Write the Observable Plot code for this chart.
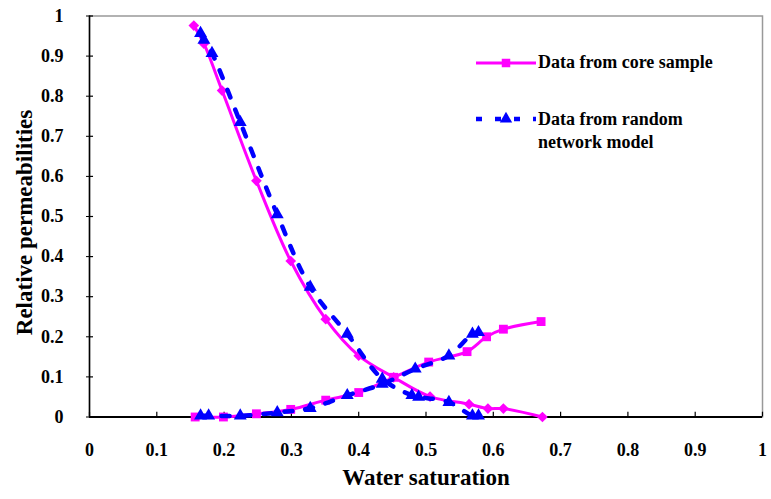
<!DOCTYPE html>
<html><head><meta charset="utf-8">
<script src="https://cdn.jsdelivr.net/npm/d3@7"></script>
<script src="https://cdn.jsdelivr.net/npm/@observablehq/plot@0.6"></script>
<style>
body{margin:0;background:#fff;}
#wrap{position:relative;width:771px;height:499px;overflow:hidden;}
.leg{position:absolute;font-family:"Liberation Serif","Times New Roman",serif;font-weight:bold;font-size:18px;line-height:23px;color:#000;white-space:pre;}
.sw{position:absolute;}
</style></head><body><div id="wrap"></div>
<script>
// Core sample (magenta): kro (diamonds) and krw (squares)
const coreSwKro = [0.155,0.170,0.197,0.248,0.299,0.351,0.400,0.452,0.506,0.564,0.592,0.615,0.673];
const coreKro   = [0.976,0.931,0.814,0.589,0.389,0.244,0.153,0.099,0.051,0.032,0.021,0.021,0.000];
const coreSwKrw = [0.157,0.199,0.248,0.299,0.351,0.400,0.452,0.504,0.561,0.590,0.615,0.671];
const coreKrw   = [0.000,0.000,0.008,0.019,0.042,0.061,0.099,0.137,0.163,0.200,0.219,0.238];
// Random network model (blue triangles)
const modelSwKro = [0.165,0.170,0.182,0.224,0.279,0.328,0.383,0.435,0.479,0.489,0.534,0.569,0.578];
const modelKro   = [0.957,0.940,0.907,0.735,0.505,0.324,0.207,0.095,0.054,0.050,0.037,0.003,0.003];
const modelSwKrw = [0.165,0.177,0.224,0.279,0.328,0.383,0.435,0.484,0.534,0.569,0.578];
const modelKrw   = [0.003,0.003,0.003,0.011,0.022,0.054,0.082,0.120,0.153,0.207,0.211];
// Ticks and labels
const xTicks = [0,0.1,0.2,0.3,0.4,0.5,0.6,0.7,0.8,0.9,1];
const yTicks = [0,0.1,0.2,0.3,0.4,0.5,0.6,0.7,0.8,0.9,1];
const xTitle = "Water saturation";
const yTitle = "Relative permeabilities";
const legendLabels = ["Data from core sample", "Data from random\nnetwork model"];
const magenta = "#ff00ff", blue = "#0000ff";

const mk = (xs, ys) => xs.map((x, i) => ({x, y: ys[i]}));
const coreKroData = mk(coreSwKro, coreKro);
const coreKrwData = mk(coreSwKrw, coreKrw);
const modelKroData = mk(modelSwKro, modelKro);
const modelKrwData = mk(modelSwKrw, modelKrw);
const fmt = d => (d === 0 || d === 1) ? String(d) : d.toFixed(1);
const dash = "8,13";

const chart = Plot.plot({
  width: 771, height: 499,
  marginLeft: 89, marginRight: 9, marginTop: 15.5, marginBottom: 82.5,
  x: {domain: [0, 1]},
  y: {domain: [0, 1]},
  style: {fontFamily: '"Liberation Serif","Times New Roman",serif', fontSize: "18px", fontWeight: "bold", color: "#000", background: "#fff", overflow: "visible"},
  marks: [
    Plot.frame({stroke: "#999", strokeWidth: 1.5}),
    Plot.ruleX(xTicks, {y1: 0, y2: 0.012, stroke: "#000", strokeWidth: 1.2}),
    Plot.ruleY(yTicks, {x1: 0, x2: 0.006, stroke: "#000", strokeWidth: 1.2}),
    Plot.axisX({ticks: xTicks, tickSize: 0, tickPadding: 26, tickFormat: fmt, label: null}),
    Plot.axisY({ticks: yTicks, tickSize: 3, tickPadding: 23, tickFormat: fmt, label: null, stroke: "#000"}),
    Plot.ruleY([0], {stroke: "#000", strokeWidth: 2}),
    Plot.ruleX([0], {stroke: "#000", strokeWidth: 1.5}),
    Plot.line(coreKroData, {x: "x", y: "y", stroke: magenta, strokeWidth: 3, curve: "catmull-rom"}),
    Plot.line(coreKrwData, {x: "x", y: "y", stroke: magenta, strokeWidth: 3, curve: "catmull-rom"}),
    Plot.dot(coreKroData, {x: "x", y: "y", symbol: "diamond2", r: 4.8, fill: magenta, stroke: null}),
    Plot.dot(coreKrwData, {x: "x", y: "y", symbol: "square", r: 5, fill: magenta, stroke: null}),
    Plot.line(modelKroData, {x: "x", y: "y", stroke: blue, strokeWidth: 4.5, strokeDasharray: dash, curve: "catmull-rom"}),
    Plot.line(modelKrwData, {x: "x", y: "y", stroke: blue, strokeWidth: 4.5, strokeDasharray: dash, curve: "catmull-rom"}),
    Plot.dot(modelKroData, {x: "x", y: "y", symbol: "triangle", r: 4.8, fill: blue, stroke: null}),
    Plot.dot(modelKrwData, {x: "x", y: "y", symbol: "triangle", r: 4.8, fill: blue, stroke: null}),
    Plot.text([xTitle], {frameAnchor: "bottom", dy: 68, fontSize: 23, fontWeight: "bold"}),
    Plot.text([yTitle], {frameAnchor: "left", textAnchor: "middle", dx: -65, dy: 6, rotate: -90, fontSize: 23, fontWeight: "bold"})
  ]
});
const wrap = document.getElementById("wrap");
wrap.appendChild(chart);

// Legend overlay
function swatch(top, color, isDash, symbol) {
  const ns = "http://www.w3.org/2000/svg";
  const s = document.createElementNS(ns, "svg");
  s.setAttribute("width", 60); s.setAttribute("height", 16);
  s.setAttribute("class", "sw");
  s.style.left = "476px"; s.style.top = (top - 8) + "px";
  const l = document.createElementNS(ns, "line");
  l.setAttribute("x1", 0); l.setAttribute("x2", 60); l.setAttribute("y1", 8); l.setAttribute("y2", 8);
  l.setAttribute("stroke", color); l.setAttribute("stroke-width", isDash ? 4.5 : 3);
  if (isDash) l.setAttribute("stroke-dasharray", "6,13");
  s.appendChild(l);
  const p = document.createElementNS(ns, "path");
  p.setAttribute("d", d3.symbol(symbol === "square" ? d3.symbolSquare : d3.symbolTriangle, Math.PI * (symbol === "square" ? 4.8 : 4.6) ** 2)());
  p.setAttribute("transform", "translate(30,8)");
  p.setAttribute("fill", color);
  s.appendChild(p);
  wrap.appendChild(s);
}
swatch(62.5, magenta, false, "square");
swatch(119, blue, true, "triangle");
const t1 = document.createElement("div");
t1.className = "leg"; t1.style.left = "538px"; t1.style.top = "51px"; t1.textContent = legendLabels[0];
wrap.appendChild(t1);
const t2 = document.createElement("div");
t2.className = "leg"; t2.style.left = "538px"; t2.style.top = "107.5px"; t2.textContent = legendLabels[1];
wrap.appendChild(t2);
</script></body></html>
